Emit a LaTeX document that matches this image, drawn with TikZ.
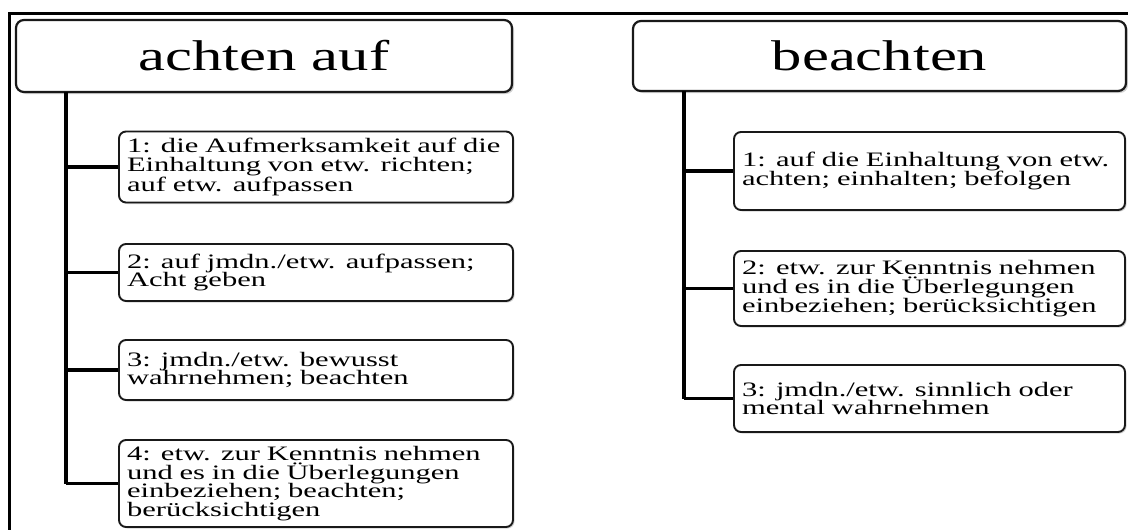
\documentclass[tikz,border=0pt]{standalone}
\usepackage{fontspec}
\setmainfont[FakeStretch=1.49]{Liberation Serif}
\newfontfamily\titlefont[FakeStretch=1.41]{Liberation Serif}
\usetikzlibrary{shadows}
\begin{document}
\begin{tikzpicture}[x=1pt,y=-1pt,
  titlebox/.style={draw=black!90, line width=2.2pt, rounded corners=8pt, fill=white,
    drop shadow={shadow xshift=2pt, shadow yshift=-2pt, opacity=0.35},
    font=\titlefont\fontsize{43}{46}\selectfont, inner sep=0pt},
  itembox/.style={draw=black!90, line width=1.9pt, rounded corners=7pt, fill=white,
    drop shadow={shadow xshift=1.5pt, shadow yshift=-1.5pt, opacity=0.35},
    font=\fontsize{20.5}{18.8}\selectfont, align=left, inner xsep=8pt, inner ysep=0pt},
  lbox/.style={itembox, text width=378pt},
  rbox/.style={itembox, text width=375pt},
  trunk/.style={line width=4pt},
  branch/.style={line width=3.2pt},
  frameline/.style={line width=3pt}]
\useasboundingbox (0,0) rectangle (1128,530);
\fill[white] (0,0) rectangle (1128,530);
% frame
\coordinate (fTL) at (9,13);
\coordinate (fTR) at (1130,13);
\coordinate (fBL) at (9,532);
\draw[frameline] (fTR) -- (fTL) -- (fBL);
% titles
\node[titlebox, minimum width=496pt, minimum height=72pt] (t1) at (264,56) {achten auf};
\node[titlebox, minimum width=493pt, minimum height=70pt] (t2) at (879.5,56) {beachten};
% left items
\node[lbox, minimum height=71pt] (a1) at (316,167) {1: die Aufmerksamkeit auf die\\Einhaltung von etw. richten;\\auf etw. aufpassen};
\node[lbox, minimum height=57pt] (a2) at (316,272.5) {2: auf jmdn./etw. aufpassen;\\Acht geben};
\node[lbox, minimum height=60pt] (a3) at (316,370) {3: jmdn./etw. bewusst\\wahrnehmen; beachten};
\node[lbox, minimum height=87pt] (a4) at (316,483.5) {4: etw. zur Kenntnis nehmen\\und es in die Überlegungen\\einbeziehen; beachten;\\berücksichtigen};
% right items
\node[rbox, minimum height=78pt] (b1) at (929.5,171) {1: auf die Einhaltung von etw.\\achten; einhalten; befolgen};
\node[rbox, minimum height=75pt] (b2) at (929.5,288.5) {2: etw. zur Kenntnis nehmen\\und es in die Überlegungen\\einbeziehen; berücksichtigen};
\node[rbox, minimum height=67pt] (b3) at (929.5,398.5) {3: jmdn./etw. sinnlich oder\\mental wahrnehmen};
% trunks
\coordinate (tr1) at (66,92);
\coordinate (tr2) at (684,91);
\draw[trunk] (tr1) -- (tr1 |- a4.west);
\draw[trunk] (tr2) -- (tr2 |- b3.west);
% branches
\foreach \n in {a1,a2,a3,a4} \draw[branch] (tr1 |- \n.west) -- (\n.west);
\foreach \n in {b1,b2,b3} \draw[branch] (tr2 |- \n.west) -- (\n.west);
\end{tikzpicture}
\end{document}
